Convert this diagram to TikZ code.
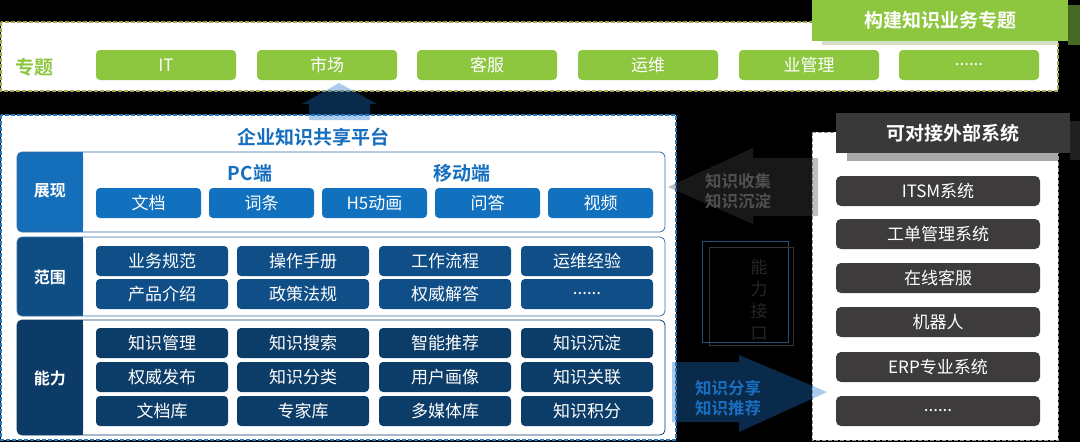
\documentclass[tikz,border=0pt]{standalone}
\usepackage{fontspec}
\setmainfont{Noto Sans CJK SC}[BoldFont={Noto Sans CJK SC Bold}]
\definecolor{zgreen}{RGB}{141,198,63}
\definecolor{zgreendark}{RGB}{70,105,35}
\definecolor{zstrip}{RGB}{215,222,200}
\definecolor{bandline}{RGB}{165,165,80}
\definecolor{platline}{RGB}{40,120,190}
\definecolor{rowline}{RGB}{55,110,165}
\definecolor{tblue}{RGB}{22,110,190}
\definecolor{lab1}{RGB}{20,110,185}
\definecolor{lab2}{RGB}{15,77,133}
\definecolor{lab3}{RGB}{11,59,102}
\definecolor{pblue}{RGB}{18,113,190}
\definecolor{pnavy}{RGB}{15,78,134}
\definecolor{pdeep}{RGB}{12,60,104}
\definecolor{sgray}{RGB}{61,59,60}
\definecolor{hgray}{RGB}{58,57,58}
\definecolor{hshadow}{RGB}{32,32,32}
\definecolor{hstrip}{RGB}{168,168,168}
\definecolor{rline}{RGB}{150,150,150}
\definecolor{garrow}{RGB}{70,70,70}
\definecolor{barrow}{RGB}{27,116,203}
\definecolor{gtext}{RGB}{80,80,80}
\definecolor{btext}{RGB}{26,111,192}
\definecolor{ifline}{RGB}{30,80,125}
\definecolor{ifline2}{RGB}{60,52,48}
\definecolor{iftext}{RGB}{38,38,38}
\begin{document}
\begin{tikzpicture}[x=1pt,y=-1pt,
  boxbase/.style={rounded corners=4pt, minimum height=30pt, inner sep=0pt, text=white, font=\fontsize{17}{19}\selectfont},
  gbox/.style={boxbase, fill=zgreen, minimum width=140pt},
  bone/.style={boxbase, fill=pblue, minimum width=105pt},
  btwo/.style={boxbase, fill=pnavy, minimum width=132pt},
  bthree/.style={boxbase, fill=pdeep, minimum width=132pt},
  sbox/.style={boxbase, fill=sgray, minimum width=204pt, rounded corners=5pt},
  headtext/.style={font=\fontsize{19}{21}\selectfont\bfseries, inner sep=0pt},
  labtext/.style={font=\fontsize{16}{18}\selectfont\bfseries, text=white, inner sep=0pt},
  arrtext/.style={font=\fontsize{16.5}{20}\selectfont\bfseries, inner sep=0pt, align=center}
]
\fill[black] (0,0) rectangle (1080,442);
\useasboundingbox (0,0) rectangle (1080,442);

% ---- top band
\draw[bandline, line width=1.2pt, dash pattern=on 4pt off 2pt, fill=white] (1,22) rectangle (1058,91);
\fill[zgreendark] (1068,5) rectangle (1080,45);
\fill[zstrip] (822,41) rectangle (1058,45);
\fill[zgreen] (812,0) rectangle (1068,41);
\node[headtext, text=white] (hdrtop) at (940,20) {构建知识业务专题};
\node[headtext, text=zgreen] (zt) at (35,67) {专题};
\node[gbox] (t1) at (166,65) {IT};
\node[gbox] (t2) at (327,65) {市场};
\node[gbox] (t3) at (487,65) {客服};
\node[gbox] (t4) at (648,65) {运维};
\node[gbox] (t5) at (809,65) {业管理};
\node[gbox] (t6) at (969,65) {......};

% ---- platform
\draw[platline, line width=1.5pt, dash pattern=on 4pt off 2pt, fill=white] (1,115) rectangle (676,440);
\node[headtext, text=tblue] (ptitle) at (313,137) {企业知识共享平台};

% row 1
\fill[white, rounded corners=5pt] (17,152) rectangle (665,232);
\fill[lab1, rounded corners=5pt] (17,152) rectangle (83,232);
\fill[lab1] (60,152) rectangle (83,232);
\draw[rowline, line width=0.8pt, rounded corners=5pt] (17,152) rectangle (665,232);
\node[labtext] (l1) at (50,191) {展现};
\node[headtext, text=tblue] (pc) at (250,173) {PC端};
\node[headtext, text=tblue] (mob) at (462,173) {移动端};
\node[bone] (a1) at (148.5,203) {文档};
\node[bone] (a2) at (261.5,203) {词条};
\node[bone] (a3) at (374.5,203) {H5动画};
\node[bone] (a4) at (487.5,203) {问答};
\node[bone] (a5) at (600.5,203) {视频};

% row 2
\fill[white, rounded corners=5pt] (17,237) rectangle (665,316);
\fill[lab2, rounded corners=5pt] (17,237) rectangle (83,316);
\fill[lab2] (60,237) rectangle (83,316);
\draw[rowline, line width=0.8pt, rounded corners=5pt] (17,237) rectangle (665,316);
\node[labtext] (l2) at (50,277) {范围};
\node[btwo] (r11) at (162,261) {业务规范};
\node[btwo] (r12) at (303,261) {操作手册};
\node[btwo] (r13) at (445,261) {工作流程};
\node[btwo] (r14) at (587,261) {运维经验};
\node[btwo] (r21) at (162,294) {产品介绍};
\node[btwo] (r22) at (303,294) {政策法规};
\node[btwo] (r23) at (445,294) {权威解答};
\node[btwo] (r24) at (587,294) {......};

% row 3
\fill[white, rounded corners=5pt] (17,320) rectangle (665,435);
\fill[lab3, rounded corners=5pt] (17,320) rectangle (83,435);
\fill[lab3] (60,320) rectangle (83,435);
\draw[lab3, line width=0.8pt, rounded corners=5pt] (17,320) rectangle (665,435);
\node[labtext] (l3) at (50,378) {能力};
\node[bthree] (c11) at (162,343) {知识管理};
\node[bthree] (c12) at (303,343) {知识搜索};
\node[bthree] (c13) at (445,343) {智能推荐};
\node[bthree] (c14) at (587,343) {知识沉淀};
\node[bthree] (c21) at (162,377) {权威发布};
\node[bthree] (c22) at (303,377) {知识分类};
\node[bthree] (c23) at (445,377) {用户画像};
\node[bthree] (c24) at (587,377) {知识关联};
\node[bthree] (c31) at (162,411) {文档库};
\node[bthree] (c32) at (303,411) {专家库};
\node[bthree] (c33) at (445,411) {多媒体库};
\node[bthree] (c34) at (587,411) {知识积分};

% ---- right panel
\draw[rline, line width=1pt, dash pattern=on 4pt off 2pt, fill=white] (812,132) rectangle (1058,440);
\fill[hshadow] (1070,121) rectangle (1080,160);
\fill[hstrip] (847,153) rectangle (1058,161);
\fill[hgray] (836,113) rectangle (1070,153);
\node[headtext, text=white] (hdrright) at (953,133) {可对接外部系统};
\node[sbox] (s1) at (938,191) {ITSM系统};
\node[sbox] (s2) at (938,234) {工单管理系统};
\node[sbox] (s3) at (938,278) {在线客服};
\node[sbox] (s4) at (938,322) {机器人};
\node[sbox] (s5) at (938,367) {ERP专业系统};
\node[sbox] (s6) at (938,411) {......};

% ---- arrows (semi transparent)
\fill[barrow, opacity=0.37] (339,83) -- (377,104) -- (370,104) -- (370,120) -- (309,120) -- (309,104) -- (302,104) -- cycle;
\fill[garrow, opacity=0.35] (668,187) -- (753,148) -- (753,158) -- (818,158) -- (818,216) -- (753,216) -- (753,224) -- cycle;
\fill[barrow, opacity=0.37] (672,362) -- (739,362) -- (739,355) -- (827,392) -- (739,432) -- (739,422) -- (672,422) -- cycle;
\node[arrtext, text=gtext] (collect) at (738,191) {知识收集\\知识沉淀};
\node[arrtext, text=btext] (share) at (728,398) {知识分享\\知识推荐};

% ---- interface box
\draw[ifline, line width=1pt] (702,241) rectangle (788,342);
\draw[ifline2, line width=0.8pt] (709,247) rectangle (793,345);
\node[font=\fontsize{17}{22}\selectfont, text=iftext, align=center, inner sep=0pt] (iface) at (759,300) {能\\力\\接\\口};
\end{tikzpicture}
\end{document}
